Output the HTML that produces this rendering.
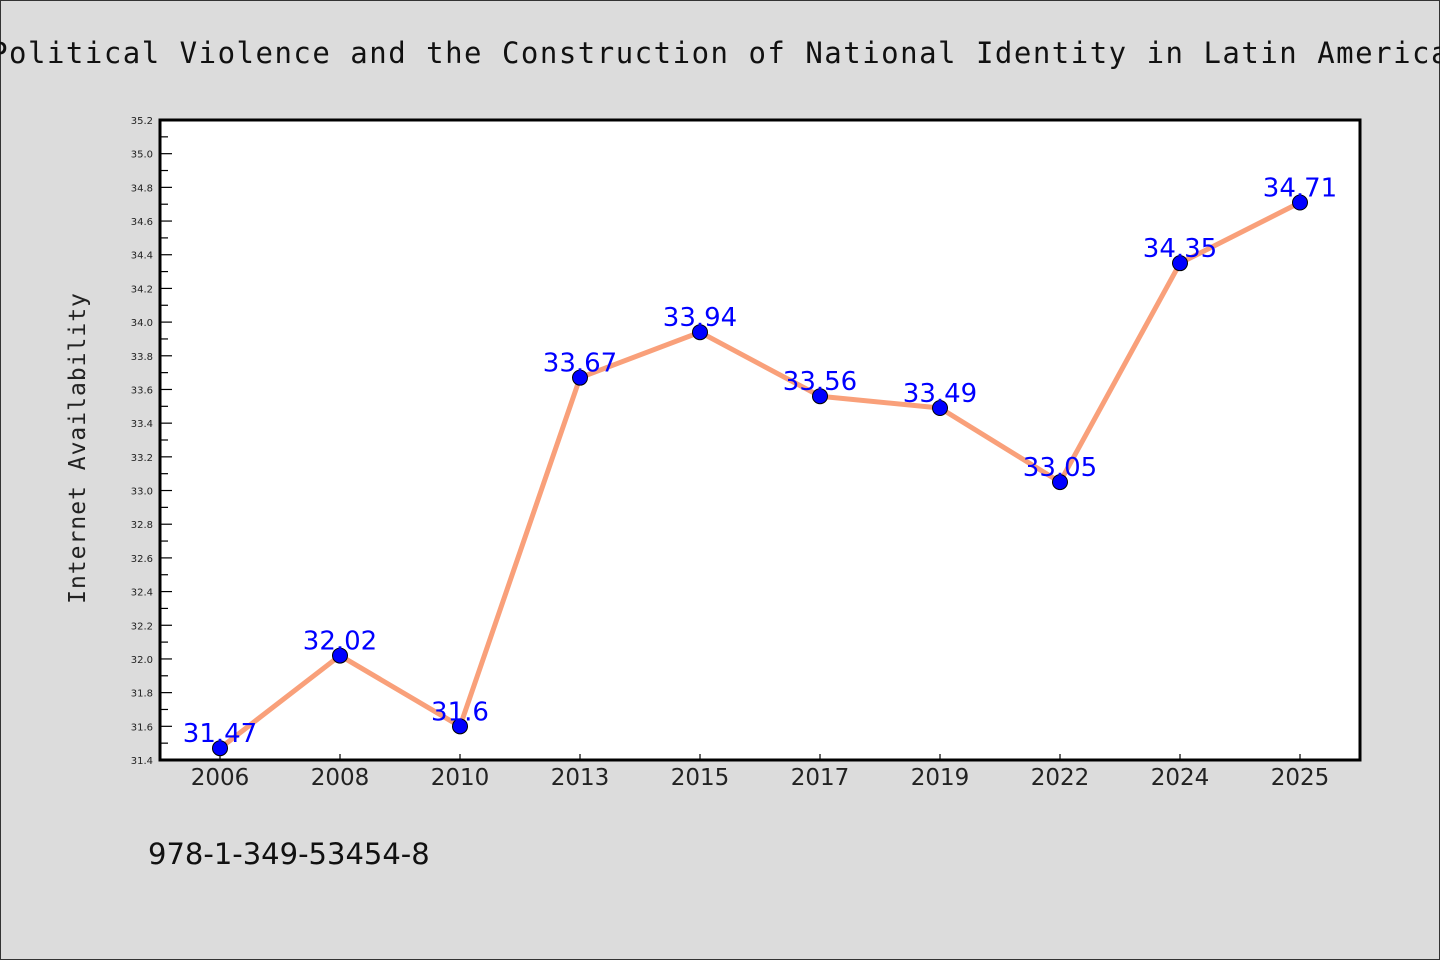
<!DOCTYPE html>
<html><head><meta charset="utf-8"><style>
html,body{margin:0;padding:0;background:#dcdcdc;}
svg{display:block;font-family:"DejaVu Sans Mono","Liberation Mono",monospace;}
</style></head><body>
<svg width="1440" height="960" xmlns="http://www.w3.org/2000/svg">
<rect x="0.5" y="0.5" width="1439" height="959" fill="#dcdcdc" stroke="#333"/>
<text x="720" y="63" text-anchor="middle" font-size="29" fill="#111" letter-spacing="1.5">Political Violence and the Construction of National Identity in Latin America</text>
<rect x="160" y="120" width="1200" height="640" fill="#fff"/>
<g id="yaxis"></g>
<g id="xaxis"></g>
<g id="series"></g>
<rect x="160" y="120" width="1200" height="640" fill="none" stroke="#000" stroke-width="3"/>
<text transform="translate(85,448) rotate(-90)" text-anchor="middle" font-size="23" fill="#222" letter-spacing="1">Internet Availability</text>
<text x="148" y="864" font-family="'DejaVu Sans','Liberation Sans',sans-serif" font-size="29" fill="#111">978-1-349-53454-8</text>
</svg>
<script>
const categories=["2006","2008","2010","2013","2015","2017","2019","2022","2024","2025"];
const values=[31.47,32.02,31.6,33.67,33.94,33.56,33.49,33.05,34.35,34.71];
const yTicks=[31.4,31.6,31.8,32.0,32.2,32.4,32.6,32.8,33.0,33.2,33.4,33.6,33.8,34.0,34.2,34.4,34.6,34.8,35.0,35.2];
const labels=["31.47","32.02","31.6","33.67","33.94","33.56","33.49","33.05","34.35","34.71"];
const NS="http://www.w3.org/2000/svg";
const L=160,R=1360,T=120,B=760,yMin=31.4,yMax=35.2;
const y=v=>B-(v-yMin)/(yMax-yMin)*(B-T);
const step=(R-L)/categories.length;
const x=i=>L+step/2+i*step;
function mk(tag,attrs,parent){const e=document.createElementNS(NS,tag);for(const k in attrs)e.setAttribute(k,attrs[k]);parent.appendChild(e);return e;}
const ya=document.getElementById('yaxis'),xa=document.getElementById('xaxis'),se=document.getElementById('series');
yTicks.forEach((v,i)=>{
  const t=mk('line',{x1:L,x2:L+12,y1:y(v),y2:y(v),stroke:'#000','stroke-width':1.2},ya);
  
  
  if(i<yTicks.length-1){const m=mk('line',{x1:L,x2:L+8,y1:y(v+0.1),y2:y(v+0.1),stroke:'#000','stroke-width':1.2},ya);
  
  }
  const tx=mk('text',{x:L-7,y:y(v)+4,'text-anchor':'end','font-size':10,fill:'#222','font-family':"'DejaVu Sans',sans-serif"},ya);
  tx.textContent=v.toFixed(1);
  
  
});
categories.forEach((c,i)=>{
  const t=mk('line',{x1:x(i),x2:x(i),y1:B,y2:B-6,stroke:'#000','stroke-width':1.2},xa);
  
  
  const tx=mk('text',{x:x(i),y:B+25,'text-anchor':'middle','font-size':23,fill:'#222','font-family':"'DejaVu Sans',sans-serif"},xa);
  tx.textContent=c;
  
  
});
const pl=mk('polyline',{points:values.map((v,i)=>x(i)+','+y(v)).join(' '),fill:'none',stroke:'#f9a07a','stroke-width':5,'stroke-linejoin':'round'},se);


values.forEach((v,i)=>{
  const c=mk('circle',{cx:x(i),cy:y(v),r:7.5,fill:'#0000ff',stroke:'#000','stroke-width':1},se);
  
  
});
values.forEach((v,i)=>{
  const t=mk('text',{x:x(i),y:y(v)-6,'text-anchor':'middle','font-size':26,fill:'#0000ff','font-family':"'DejaVu Sans',sans-serif"},se);
  t.textContent=labels[i];
  
  
});
</script>
</body></html>
